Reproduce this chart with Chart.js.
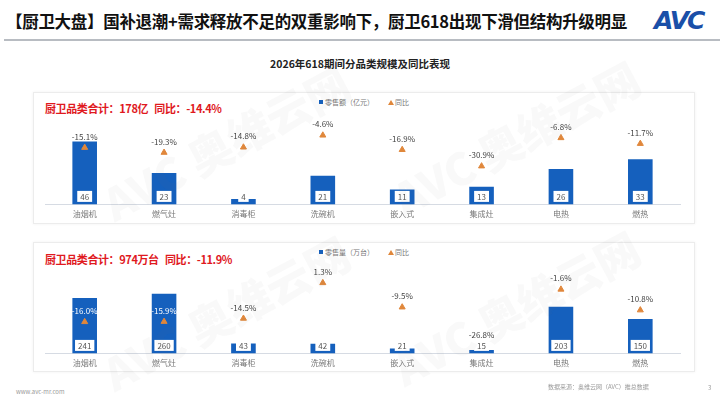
<!DOCTYPE html>
<html>
<head>
<meta charset="utf-8">
<script src="https://cdn.jsdelivr.net/npm/chart.js@4.4.0/dist/chart.umd.min.js"></script>
<style>
  body { margin: 0; width: 720px; height: 408px; background: #fff; position: relative; overflow: hidden;
         font-family: "Noto Sans CJK SC", "Noto Sans", sans-serif; }
  .title { position: absolute; left: 6px; top: 9px; font-size: 16.5px; font-weight: bold; color: #111; letter-spacing: -0.3px; }
  .logo { position: absolute; left: 654px; top: 6px; font-size: 25px; font-weight: 900; font-style: italic; color: #1a4fa8;
          font-family: "DejaVu Sans", sans-serif; letter-spacing: -2px; }
  .rule { position: absolute; left: 4px; top: 39px; width: 716px; height: 2px; background: #b8bcc2; }
  .subtitle { position: absolute; left: 0; width: 720px; top: 56px; text-align: center; font-size: 10.5px; font-weight: bold; color: #222; }
  .panel { position: absolute; left: 33px; width: 660px; border: 1px solid #ececec; box-shadow: 0 0 3px rgba(0,0,0,0.06); }
  .total { position: absolute; left: 45px; font-size: 11px; font-weight: bold; color: #e0191e; letter-spacing: -0.4px; }
  .legend { position: absolute; left: 319px; font-size: 7px; color: #777; }
  .legend .sq { display: inline-block; width: 4px; height: 4px; background: #1560bd; margin-right: 2px; vertical-align: 1px; }
  .legend .tri { display: inline-block; width: 0; height: 0; border-left: 3px solid transparent; border-right: 3px solid transparent;
                 border-bottom: 5px solid #e0873b; margin: 0 1px 0 14px; vertical-align: 0px; }
  canvas { position: absolute; }
  .wm { position: absolute; font-size: 44px; font-weight: 900; color: rgba(120,120,120,0.045); transform: rotate(-28deg); white-space: nowrap; pointer-events: none; }
  .foot { position: absolute; font-size: 6px; color: #9a9a9a; }
</style>
</head>
<body>
<div class="title">【厨卫大盘】国补退潮+需求释放不足的双重影响下，厨卫618出现下滑但结构升级明显</div>
<div class="logo">AVC</div>
<div class="rule"></div>
<div class="subtitle">2026年618期间分品类规模及同比表现</div>

<div class="panel" style="top:92px;height:130px;"></div>
<div class="panel" style="top:242px;height:128px;"></div>

<div class="total" style="top:100px;">厨卫品类合计：178亿&nbsp;&nbsp;&nbsp;同比：-14.4%</div>
<div class="legend" style="top:97px;"><span class="sq"></span>零售额（亿元）<span class="tri"></span>同比</div>
<canvas id="salesChart" style="left:40px;top:112px;width:645px;height:112px;" width="645" height="112"></canvas>

<div class="total" style="top:251px;">厨卫品类合计：974万台&nbsp;&nbsp;&nbsp;同比：-11.9%</div>
<div class="legend" style="top:247px;"><span class="sq"></span>零售量（万台）<span class="tri"></span>同比</div>
<canvas id="volumeChart" style="left:40px;top:265px;width:645px;height:108px;" width="645" height="108"></canvas>

<div class="wm" style="left:90px;top:110px;">AVC 奥维云网</div>
<div class="wm" style="left:380px;top:105px;">AVC 奥维云网</div>
<div class="wm" style="left:90px;top:280px;">AVC 奥维云网</div>
<div class="wm" style="left:380px;top:275px;">AVC 奥维云网</div>

<div class="foot" style="left:16px;top:387px;">www.avc-mr.com</div>
<div class="foot" style="left:548px;top:382px;">数据来源：奥维云网（AVC）推总数据</div>
<div class="foot" style="left:708px;top:383px;">3</div>

<script>
const categories = ['油烟机', '燃气灶', '消毒柜', '洗碗机', '嵌入式', '集成灶', '电热', '燃热'];
const salesValue = [46, 23, 4, 21, 11, 13, 26, 33];
const salesYoy = [-15.1, -19.3, -14.8, -4.6, -16.9, -30.9, -6.8, -11.7];
const volumeValue = [241, 260, 43, 42, 21, 15, 203, 150];
const volumeYoy = [-16.0, -15.9, -14.5, 1.3, -9.5, -26.8, -1.6, -10.8];

const BLUE = '#1560bd';
const ORANGE = '#e0873b';
const FONT = '"Noto Sans CJK SC", "Noto Sans", sans-serif';

// draws the value boxes at the bar foot and the % text above each triangle
const labelPlugin = {
    id: 'labels',
    afterDatasetsDraw(chart) {
        const c = chart.ctx;
        const bars = chart.getDatasetMeta(0).data;
        const pts = chart.getDatasetMeta(1).data;
        const base = chart.scales.y.getPixelForValue(0);
        c.save();
        c.font = '8px ' + FONT;
        c.textAlign = 'center';
        c.textBaseline = 'middle';
        bars.forEach((bar, i) => {
            const txt = String(chart.data.datasets[0].data[i]);
            const w = c.measureText(txt).width + 6;
            const cy = base - 8;
            c.fillStyle = '#fff';
            c.fillRect(bar.x - w / 2, cy - 5.5, w, 11);
            c.fillStyle = '#555';
            c.fillText(txt, bar.x, cy + 0.5);
        });
        pts.forEach((p, i) => {
            const v = chart.data.datasets[1].data[i];
            const txt = v.toFixed(1) + '%';
            const ty = p.y - 11;
            c.fillStyle = ty > bars[i].y && ty < base ? '#ffffff' : '#444';
            c.fillText(txt, p.x, ty);
        });
        c.restore();
    }
};

function makeChart(id, values, yoy, yMax, yoyMin, yoyMax, barLabel) {
    return new Chart(document.getElementById(id), {
        data: {
            labels: categories,
            datasets: [{
                type: 'bar',
                label: barLabel,
                data: values,
                backgroundColor: BLUE,
                barPercentage: 0.31,
                categoryPercentage: 1,
                yAxisID: 'y',
                order: 2
            }, {
                type: 'line',
                label: '同比',
                data: yoy,
                showLine: false,
                pointStyle: 'triangle',
                pointRadius: 3.5,
                pointBackgroundColor: ORANGE,
                pointBorderColor: ORANGE,
                yAxisID: 'y1',
                order: 1
            }]
        },
        options: {
            responsive: false,
            animation: false,
            layout: { padding: { top: 3, left: 0, right: 0, bottom: 0 } },
            plugins: { legend: { display: false }, tooltip: { enabled: false } },
            scales: {
                x: {
                    grid: { display: false, drawTicks: false },
                    border: { display: true, color: '#d6dbe3' },
                    ticks: { color: '#777', font: { size: 8, family: FONT }, padding: 5 }
                },
                y: { display: false, min: 0, max: yMax },
                y1: { display: false, min: yoyMin, max: yoyMax }
            }
        },
        plugins: [labelPlugin]
    });
}

makeChart('salesChart', salesValue, salesYoy, 64, -63.5, 11, '零售额（亿元）');
makeChart('volumeChart', volumeValue, volumeYoy, 363, -30, 7, '零售量（万台）');
</script>
</body>
</html>
